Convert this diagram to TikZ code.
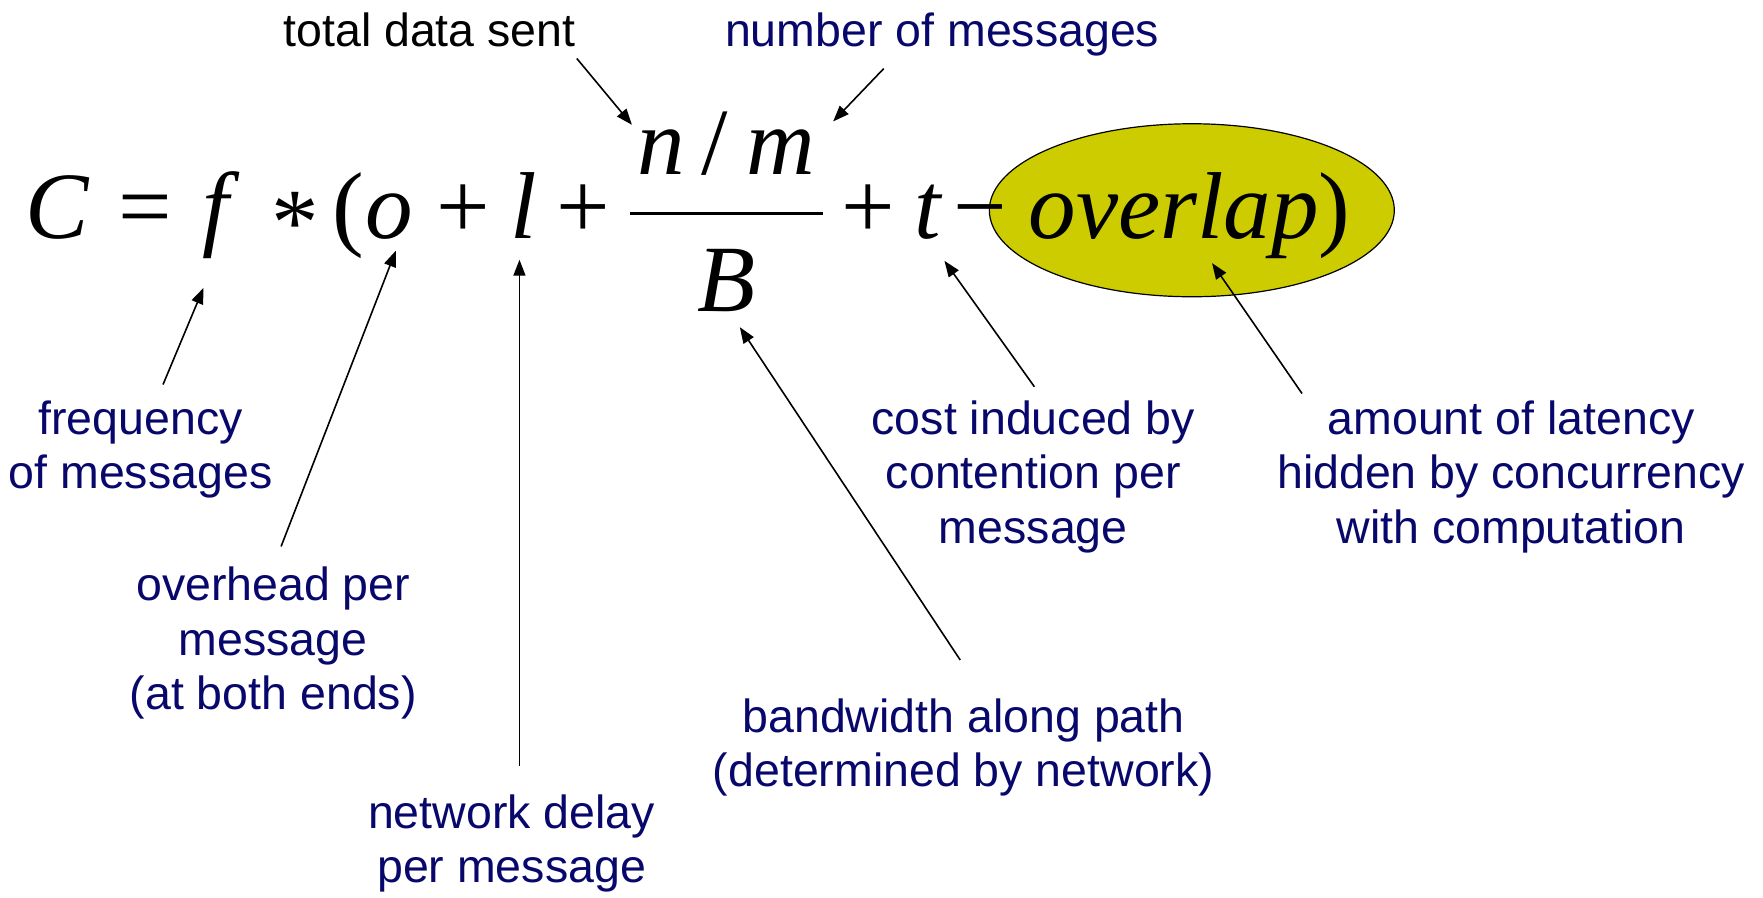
\documentclass[tikz,border=0pt]{standalone}
\usepackage{fontspec}
\setmainfont{Liberation Serif}
\newfontfamily\lsans{Liberation Sans}
\usetikzlibrary{arrows.meta,shapes.geometric}
\definecolor{navytxt}{RGB}{8,8,108}
\definecolor{ovlfill}{RGB}{204,204,0}
\begin{document}
\begin{tikzpicture}[x=1.1244pt,y=-1.1244pt,
  lbl/.style={font=\lsans\fontsize{46.5}{54.5}\selectfont, text=navytxt, align=center, inner sep=0pt},
  sym/.style={font=\fontsize{95}{100}\selectfont, anchor=base, inner sep=0pt},
  var/.style={font=\fontsize{95}{100}\selectfont\itshape, anchor=base, inner sep=0pt},
  arr/.style={line width=1.6pt, -{Triangle[length=16pt,width=12pt]}}]
\useasboundingbox[fill=white] (0,0) rectangle (1568,798);

% highlighted term
\node[ellipse, draw=black, line width=1.2pt, fill=ovlfill, minimum width=405pt, minimum height=173pt, inner sep=0pt] (ell) at (1060,187) {};

% formula
\node[var] (C) at (51,212) {C};
\node[sym] (eq) at (129,212) {=};
\node[var] (f) at (192,212) {f};
\node[sym] (ast) at (263,226) {*};
\node[sym] (lp) at (310,212) {(};
\node[var] (o) at (346,212) {o};
\node[sym] (p1) at (412,212) {+};
\node[var] (l) at (466,212) {l};
\node[sym] (p2) at (519,212) {+};
\node[var] (n) at (588,155) {n};
\node[sym] (sl) at (636,155) {/};
\node[var] (m) at (694,155) {m};
\node[var] (B) at (646,277) {B};
\node[sym] (p3) at (772,212) {+};
\node[var] (t) at (825,212) {t};
\node[sym] (mi) at (872,212) {−};
\node[sym] (ov) at (1058,212) {\itshape overlap\upshape)};
\draw[line width=3pt] (560,189.5) -- (732,189.5);

% labels
\node[lbl, text=black, anchor=base] (tds) at (382,41) {total data sent};
\node[lbl, anchor=base] (nom) at (838,41) {number of messages};
\node[lbl] (freq) at (125,400) {frequency\\of messages};
\node[lbl] (ovh) at (243,572) {overhead per\\message\\(at both ends)};
\node[lbl] (nd) at (455,750) {network delay\\per message};
\node[lbl] (bw) at (857,665) {bandwidth along path\\(determined by network)};
\node[lbl] (cost) at (919,424) {cost induced by\\contention per\\message};
\node[lbl] (amt) at (1344,424) {amount of latency\\hidden by concurrency\\with computation};

% connector ends
\coordinate (tdsS) at (513,52);  \coordinate (tdsT) at (562,111);
\coordinate (nomS) at (786,61);  \coordinate (nomT) at (741,108);
\coordinate (freqS) at (145,342); \coordinate (freqT) at (181,256);
\coordinate (ovhS) at (250,486);  \coordinate (ovhT) at (352,223);
\coordinate (ndS) at (462,681);   \coordinate (ndT) at (462,231);
\coordinate (bwS) at (854,587);   \coordinate (bwT) at (658,291);
\coordinate (costS) at (920,344); \coordinate (costT) at (840,232);
\coordinate (amtS) at (1158,350); \coordinate (amtT) at (1078,234);

\draw[arr] (tdsS) -- (tdsT);
\draw[arr] (nomS) -- (nomT);
\draw[arr] (freqS) -- (freqT);
\draw[arr] (ovhS) -- (ovhT);
\draw[arr] (ndS) -- (ndT);
\draw[arr] (bwS) -- (bwT);
\draw[arr] (costS) -- (costT);
\draw[arr] (amtS) -- (amtT);
\end{tikzpicture}
\end{document}
